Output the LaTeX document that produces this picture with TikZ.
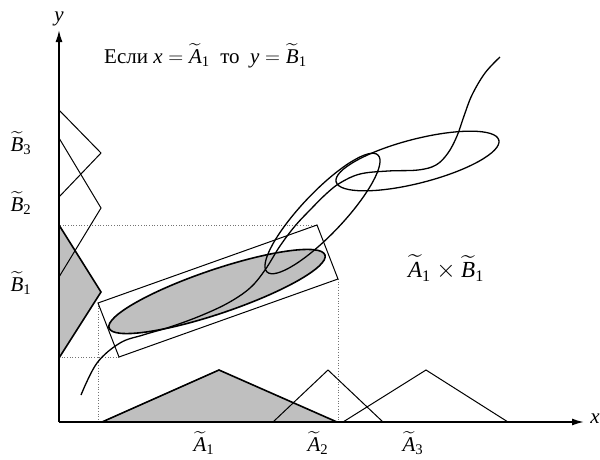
\documentclass[tikz,border=0pt]{standalone}
\usepackage{fontspec}
\setmainfont{Liberation Serif}
\usepackage{amsmath}
\usetikzlibrary{arrows.meta}
\begin{document}
\begin{tikzpicture}[x=1pt,y=-1pt,
  axisline/.style={line width=1.7pt},
  thickline/.style={line width=1.6pt, line join=miter},
  thinline/.style={line width=1pt},
  curveline/.style={line width=1.3pt},
  guide/.style={black!55, dotted, line width=0.7pt},
  fuzzyfill/.style={fill=black!25},
  lbl/.style={font=\fontsize{21}{24}\selectfont, inner sep=0pt},
  biglbl/.style={font=\fontsize{23}{26}\selectfont, inner sep=0pt}]
\useasboundingbox (0,0) rectangle (600,459);
\fill[white] (0,0) rectangle (600,459);
% axes points
\coordinate (O) at (59,422);
\coordinate (Xend) at (584,422);
\coordinate (Yend) at (59,30);
% A triangles
\coordinate (a1l) at (102,422); \coordinate (a1p) at (219,370); \coordinate (a1r) at (337,422);
\coordinate (a2l) at (273,422); \coordinate (a2p) at (328,370); \coordinate (a2r) at (383,422);
\coordinate (a3l) at (343,422); \coordinate (a3p) at (426,370); \coordinate (a3r) at (508,422);
% B triangles
\coordinate (b1t) at (59,225); \coordinate (b1p) at (101,292); \coordinate (b1b) at (59,358);
\coordinate (b2t) at (59,138); \coordinate (b2p) at (101,208); \coordinate (b2b) at (59,277);
\coordinate (b3t) at (59,110); \coordinate (b3p) at (101,153); \coordinate (b3b) at (59,197);
% rectangle
\coordinate (r1) at (98,303); \coordinate (r2) at (317,225);
\coordinate (r3) at (338,279); \coordinate (r4) at (119,357);
% ellipse centres
\coordinate (e1) at (217,291.5);
\coordinate (e2) at (322.5,213.5);
\coordinate (e3) at (417.5,161);
% guides
\draw[guide] (r1) -- (r1 |- O);
\draw[guide] (r3) -- (r3 |- O);
\draw[guide] (r2) -- (r2 -| O);
\draw[guide] (r4) -- (r4 -| O);
% fills
\fill[fuzzyfill] (a1l) -- (a1p) -- (a1r) -- cycle;
\fill[fuzzyfill] (b1t) -- (b1p) -- (b1b) -- cycle;
\draw[thickline] (a1l) -- (a1p) -- (a1r);
\draw[thickline] (b1t) -- (b1p) -- (b1b);
\draw[thinline] (a2l) -- (a2p) -- (a2r);
\draw[thinline] (a3l) -- (a3p) -- (a3r);
\draw[thinline] (b2t) -- (b2p) -- (b2b);
\draw[thinline] (b3t) -- (b3p) -- (b3b);
% rectangle
\draw[thinline] (r1) -- (r2) -- (r3) -- (r4) -- cycle;
% ellipses
\draw[fuzzyfill, thickline, rotate around={18.7:(e1)}] (e1) ellipse [x radius=114pt, y radius=22pt];
\draw[curveline, rotate around={46.5:(e2)}] (e2) ellipse [x radius=80.6pt, y radius=21pt];
\draw[curveline, rotate around={14.4:(e3)}] (e3) ellipse [x radius=84pt, y radius=22pt];
% curve
\draw[curveline] plot[smooth, tension=0.6] coordinates {(81,395) (97,363) (120,343) (143,335) (170,327) (200,316) (228,303) (250,288) (265,270) (280,246) (295,226) (310,210) (326,194) (340,183) (360,174) (388,171) (418,170) (436,165) (448,153) (457,136) (464,116) (472,95) (485,73) (500,57)};
% axes
\draw[axisline, -{Latex[length=12pt,width=7pt]}] (O) -- (Xend);
\draw[axisline, -{Latex[length=12pt,width=7pt]}] (O) -- (Yend);
% labels
\node[lbl] (ly) at (59,19) {\textit{y}};
\node[lbl] (lx) at (595,419) {\textit{x}};
\node[lbl, anchor=base west] (rule) at (104,63) {Если\ $\textit{x} = \widetilde{\textit{A}}_{\text{1}}$\ \ то\ \ $\textit{y}=\widetilde{\textit{B}}_{\text{1}}$};
\node[lbl] (lb3) at (21,143) {$\widetilde{\textit{B}}_{\text{3}}$};
\node[lbl] (lb2) at (21,203) {$\widetilde{\textit{B}}_{\text{2}}$};
\node[lbl] (lb1) at (21,283) {$\widetilde{\textit{B}}_{\text{1}}$};
\node[lbl, anchor=south] (la1) at (204,455) {$\widetilde{\textit{A}}_{\text{1}}$};
\node[lbl, anchor=south] (la2) at (318,455) {$\widetilde{\textit{A}}_{\text{2}}$};
\node[lbl, anchor=south] (la3) at (413,455) {$\widetilde{\textit{A}}_{\text{3}}$};
\node[biglbl] (lprod) at (446,268) {$\widetilde{\textit{A}}_{\text{1}}\times\widetilde{\textit{B}}_{\text{1}}$};
\end{tikzpicture}
\end{document}
